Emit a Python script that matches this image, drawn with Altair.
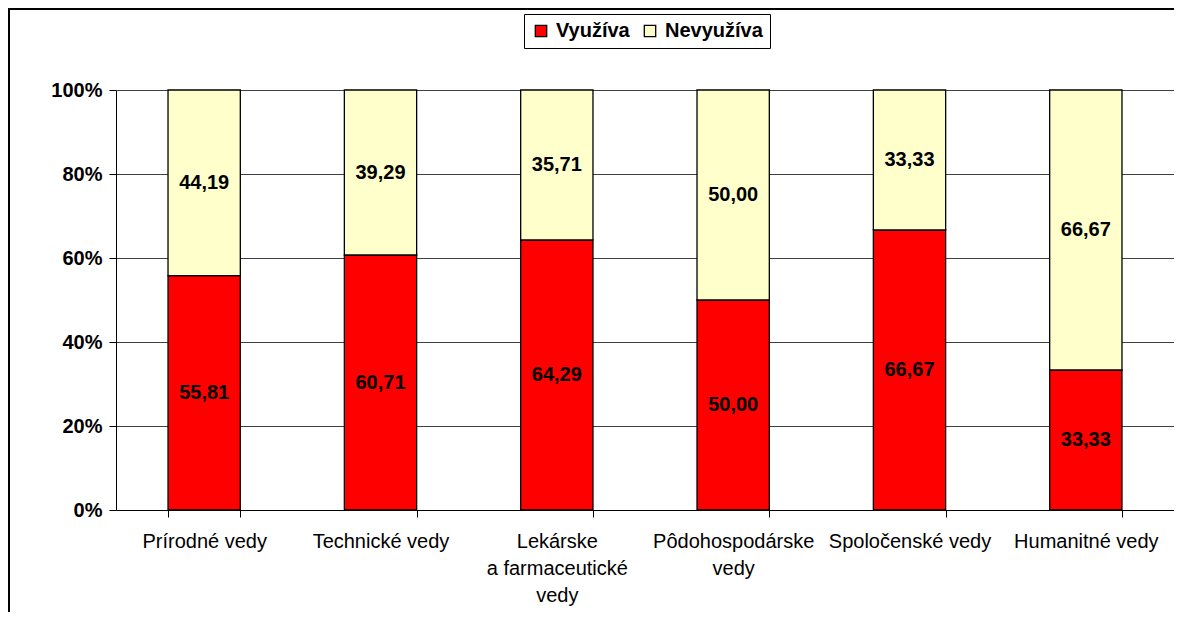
import altair as alt
import pandas as pd

categories = ["Prírodné vedy", "Technické vedy", "Lekárske a farmaceutické vedy",
              "Pôdohospodárske vedy", "Spoločenské vedy", "Humanitné vedy"]
series = ["Využíva", "Nevyužíva"]
vyuziva = [55.81, 60.71, 64.29, 50.00, 66.67, 33.33]
nevyuziva = [44.19, 39.29, 35.71, 50.00, 33.33, 66.67]
colors = ["#FF0000", "#FFFFCC"]

rows = []
for i, c in enumerate(categories):
    rows.append({"cat": c, "series": series[0], "value": vyuziva[i], "order": 0})
    rows.append({"cat": c, "series": series[1], "value": nevyuziva[i], "order": 1})
df = pd.DataFrame(rows)

label_expr = ("datum.label == 'Lekárske a farmaceutické vedy' ? ['Lekárske','a farmaceutické','vedy'] : "
              "datum.label == 'Pôdohospodárske vedy' ? ['Pôdohospodárske','vedy'] : datum.label")

base = alt.Chart(df).transform_stack(
    stack="value", groupby=["cat"], as_=["y0", "y1"], offset="normalize",
    sort=[alt.SortField("order", "ascending")]
).transform_calculate(
    mid="(datum.y0 + datum.y1) / 2",
    lbl="replace(format(datum.value, '.2f'), '.', ',')"
)

xenc = alt.X("cat:N", sort=categories,
             scale=alt.Scale(paddingInner=0.59, paddingOuter=0.295),
             axis=alt.Axis(title=None, labelAngle=0, labelExpr=label_expr,
                           labelFont="Liberation Sans", labelFontSize=20, labelColor="#000000",
                           labelPadding=14, labelLineHeight=27, labelLimit=300,
                           domainColor="#000000", tickColor="#000000", tickSize=7,
                           tickBand="extent", domainWidth=1))

bars = base.mark_bar(stroke="#000000", strokeWidth=1.3).encode(
    x=xenc,
    y=alt.Y("y0:Q", scale=alt.Scale(domain=[0, 1]),
            axis=alt.Axis(title=None, format="%", values=[0, 0.2, 0.4, 0.6, 0.8, 1.0],
                          labelFont="Liberation Sans", labelFontSize=20, labelFontWeight="bold",
                          labelColor="#000000", labelPadding=7,
                          grid=True, gridColor="#404040", gridWidth=1,
                          domainColor="#000000", tickColor="#000000", tickSize=7)),
    y2="y1:Q",
    color=alt.Color("series:N", sort=series,
                    scale=alt.Scale(domain=series, range=colors),
                    legend=alt.Legend(title=None, orient="none", legendX=408, legendY=-76,
                                      direction="horizontal", symbolType="square",
                                      symbolSize=130, symbolStrokeColor="#000000",
                                      symbolStrokeWidth=1.3, labelFont="Liberation Sans",
                                      labelFontSize=20, labelFontWeight="bold",
                                      labelColor="#000000", columnPadding=10,
                                      symbolOffset=0, labelOffset=5,
                                      strokeColor="#000000", padding=7, fillColor="#FFFFFF")),
    order=alt.Order("order:Q"),
)

texts = base.mark_text(font="Liberation Sans", fontSize=20, fontWeight="bold",
                       color="#000000", baseline="middle").encode(
    x=alt.X("cat:N", sort=categories),
    y="mid:Q",
    text="lbl:N",
)

frame = alt.Chart(df).mark_rect(fill=None, stroke="#000000", strokeWidth=1.5).encode(
    x=alt.value(-107), x2=alt.value(1120), y=alt.value(-81), y2=alt.value(600)
)

chart = alt.layer(frame, bars, texts).properties(
    width=1058, height=420,
    autosize=alt.AutoSizeParams(type="none"),
    padding={"left": 108, "top": 82, "right": 0, "bottom": 102},
).configure_view(fill="#C0C0C0", stroke="#808080", strokeWidth=1.5
).configure(background="#FFFFFF")

chart.save("out.html", embed_options={"renderer": "svg", "actions": False})
